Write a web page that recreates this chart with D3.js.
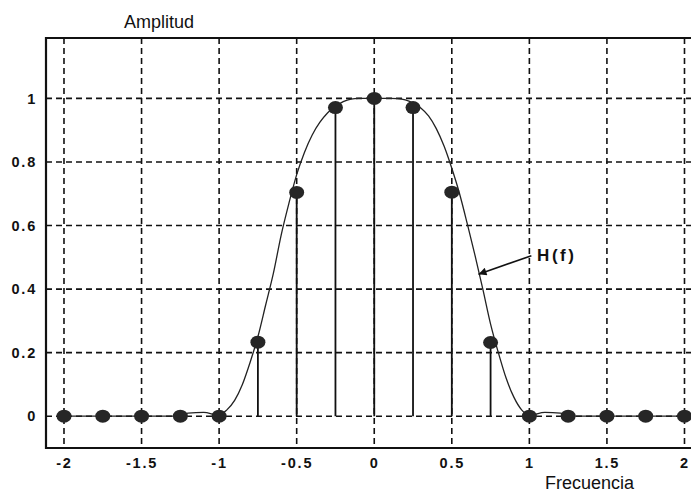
<!DOCTYPE html>
<html>
<head>
<meta charset="utf-8">
<script src="https://cdn.jsdelivr.net/npm/d3@7"></script>
<style>
  body { margin: 0; background: #fff; }
  svg { display: block; font-family: "Liberation Sans", Arial, sans-serif; }
</style>
</head>
<body>
<svg width="691" height="493"></svg>
<script>
// sampled values (stems + dots)
var sampleF = [-2, -1.75, -1.5, -1.25, -1, -0.75, -0.5, -0.25, 0, 0.25, 0.5, 0.75, 1, 1.25, 1.5, 1.75, 2];
var sampleH = [0, 0, 0, 0, 0, 0.233, 0.704, 0.971, 1, 0.971, 0.705, 0.232, 0, 0, 0, 0, 0];

// continuous curve H(f)
var curveF = [-2, -1.5, -1.3, -1.2, -1.1, -1.0, -0.95, -0.9, -0.85, -0.8, -0.75, -0.7, -0.65, -0.6, -0.55,
  -0.5, -0.45, -0.4, -0.35, -0.3, -0.25, -0.2, -0.15, -0.1, 0, 0.1, 0.15, 0.2, 0.25, 0.3, 0.35, 0.4,
  0.45, 0.5, 0.55, 0.6, 0.65, 0.7, 0.75, 0.8, 0.85, 0.9, 0.95, 1.0, 1.1, 1.2, 1.3, 1.5, 2];
var curveH = [0, 0, 0, 0.01, 0.012, 0.003, 0.02, 0.05, 0.1, 0.17, 0.25, 0.35, 0.45, 0.57, 0.67,
  0.76, 0.83, 0.885, 0.925, 0.955, 0.975, 0.99, 0.998, 1, 1, 1, 0.999, 0.995, 0.985, 0.97, 0.945, 0.905,
  0.85, 0.78, 0.70, 0.605, 0.505, 0.40, 0.29, 0.20, 0.12, 0.06, 0.02, 0.003, 0.012, 0.01, 0, 0, 0];

var xTicks = [-2, -1.5, -1, -0.5, 0, 0.5, 1, 1.5, 2];
var xTickLabels = ["-2", "-1.5", "-1", "-0.5", "0", "0.5", "1", "1.5", "2"];
var yTicks = [0, 0.2, 0.4, 0.6, 0.8, 1];
var yTickLabels = ["0", "0.2", "0.4", "0.6", "0.8", "1"];

var svg = d3.select('svg');

var x = d3.scaleLinear().domain([-2.116, 2.1]).range([46, 700]);
var y = d3.scaleLinear().domain([-0.1, 1.19]).range([448, 38]);

var plotLeft = x.range()[0], plotRight = x.range()[1],
  plotTop = y.range()[1], plotBottom = y.range()[0];

// grid
var dash = '6,4';
svg.append('g')
  .selectAll('line')
  .data(xTicks)
  .enter()
  .append('line')
  .attr('x1', d => x(d)).attr('x2', d => x(d))
  .attr('y1', plotTop).attr('y2', plotBottom)
  .attr('stroke', '#111').attr('stroke-width', 1.6)
  .attr('stroke-dasharray', dash);

svg.append('g')
  .selectAll('line')
  .data(yTicks)
  .enter()
  .append('line')
  .attr('x1', plotLeft).attr('x2', plotRight)
  .attr('y1', d => y(d)).attr('y2', d => y(d))
  .attr('stroke', '#111').attr('stroke-width', 1.6)
  .attr('stroke-dasharray', dash);

// frame (right side is cut off by the picture)
svg.append('path')
  .attr('d', `M${plotRight},${plotTop}H${plotLeft}V${plotBottom}H${plotRight}`)
  .attr('fill', 'none')
  .attr('stroke', '#111')
  .attr('stroke-width', 2.2);

// tick labels through axes
var xAxis = d3.axisBottom(x)
  .tickValues(xTicks)
  .tickSize(0)
  .tickPadding(10)
  .tickFormat((d, i) => xTickLabels[i]);

var yAxis = d3.axisLeft(y)
  .tickValues(yTicks)
  .tickSize(0)
  .tickPadding(9)
  .tickFormat((d, i) => yTickLabels[i]);

svg.append('g')
  .attr('transform', `translate(0, ${plotBottom})`)
  .call(xAxis)
  .call(g => g.select('.domain').remove());

svg.append('g')
  .attr('transform', `translate(${plotLeft}, 0)`)
  .call(yAxis)
  .call(g => g.select('.domain').remove());

svg.selectAll('.tick text')
  .attr('font-family', '"Liberation Sans", Arial, sans-serif')
  .attr('font-size', 14.5)
  .attr('font-weight', 'bold')
  .attr('letter-spacing', 1.8)
  .attr('fill', '#111');

// curve
var curvePts = curveF.map((f, i) => [f, curveH[i]]);
var line = d3.line()
  .x(d => x(d[0]))
  .y(d => y(d[1]))
  .curve(d3.curveMonotoneX);

svg.append('path')
  .datum(curvePts)
  .attr('d', line)
  .attr('fill', 'none')
  .attr('stroke', '#222')
  .attr('stroke-width', 1.3);

// stems + dots
var samples = sampleF.map((f, i) => ({f: f, h: sampleH[i]}));

svg.append('g')
  .selectAll('line')
  .data(samples.filter(d => d.h > 0))
  .enter()
  .append('line')
  .attr('x1', d => x(d.f)).attr('x2', d => x(d.f))
  .attr('y1', d => y(d.h)).attr('y2', y(0))
  .attr('stroke', '#111')
  .attr('stroke-width', 1.8);

svg.append('g')
  .selectAll('ellipse')
  .data(samples)
  .enter()
  .append('ellipse')
  .attr('cx', d => x(d.f))
  .attr('cy', d => y(d.h))
  .attr('rx', 7.5)
  .attr('ry', 6.5)
  .attr('fill', '#262626');

// annotation H(f) with arrow
var arrowFrom = [1.013, 0.505], arrowTo = [0.672, 0.447];

svg.append('defs')
  .append('marker')
  .attr('id', 'head')
  .attr('viewBox', '0 0 10 10')
  .attr('refX', 10).attr('refY', 5)
  .attr('markerWidth', 12).attr('markerHeight', 8)
  .attr('markerUnits', 'userSpaceOnUse')
  .attr('orient', 'auto')
  .append('path')
  .attr('d', 'M0,0L10,5L0,10Z')
  .attr('fill', '#111');

svg.append('line')
  .attr('x1', x(arrowFrom[0])).attr('y1', y(arrowFrom[1]))
  .attr('x2', x(arrowTo[0])).attr('y2', y(arrowTo[1]))
  .attr('stroke', '#111')
  .attr('stroke-width', 1.6)
  .attr('marker-end', 'url(#head)');

svg.append('text')
  .attr('x', x(1.05))
  .attr('y', y(0.487))
  .attr('font-size', 17)
  .attr('font-weight', 'bold')
  .attr('letter-spacing', 2.5)
  .attr('fill', '#111')
  .text('H(f)');

// axis titles
svg.append('text')
  .attr('x', 124)
  .attr('y', 28)
  .attr('font-size', 18)
  .attr('fill', '#111')
  .text('Amplitud');

svg.append('text')
  .attr('x', 545)
  .attr('y', 489)
  .attr('font-size', 18)
  .attr('fill', '#111')
  .text('Frecuencia');
</script>
</body>
</html>
